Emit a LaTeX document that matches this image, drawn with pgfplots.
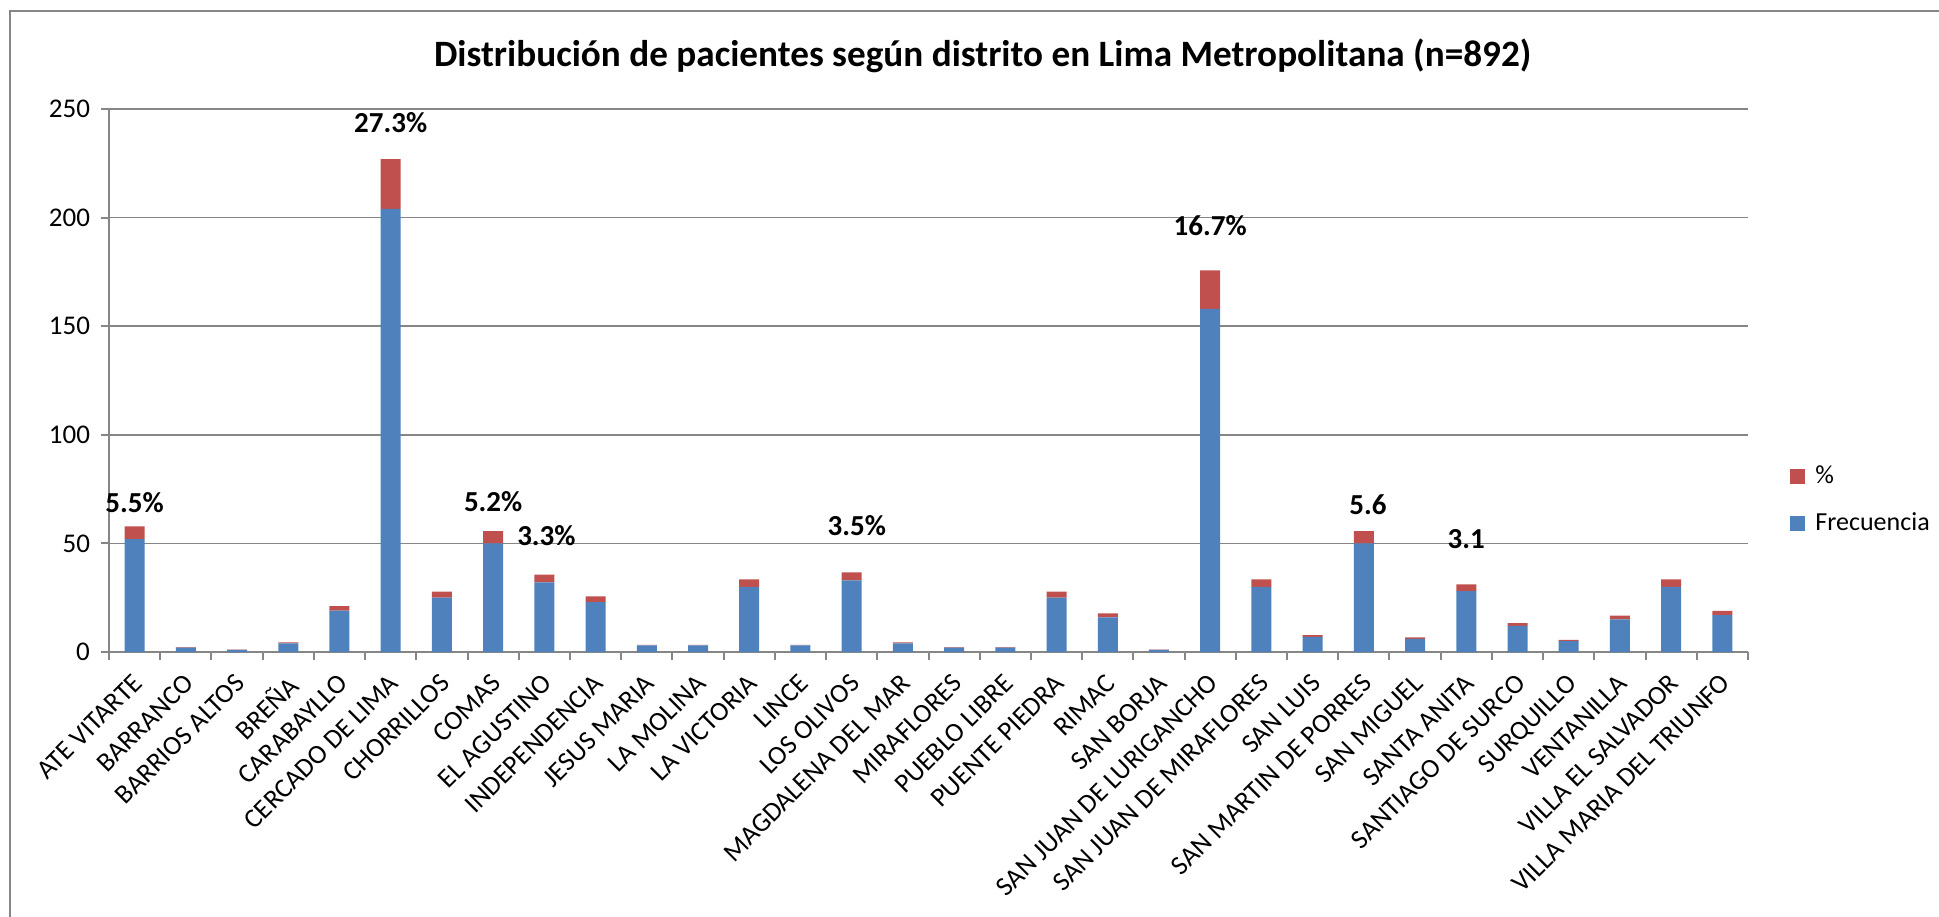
\documentclass[border=0pt]{standalone}
\usepackage{fontspec}
\setmainfont{Carlito}
\usepackage{pgfplots}
\pgfplotsset{compat=1.18}

\definecolor{xlblue}{HTML}{4F81BD}
\definecolor{xlred}{HTML}{C0504D}
\definecolor{xlgray}{HTML}{868686}

\newcommand{\lblfont}{\fontsize{13.5}{16}\selectfont}
\tikzset{pct/.style={font=\bfseries\fontsize{14.5}{17}\selectfont}}

\begin{document}
\begin{tikzpicture}
% page = full chart area (1 px of the reference = 0.5pt), plot area at (0,0)
\useasboundingbox (-54.5pt,-132pt) rectangle (915pt,326pt);
\draw[xlgray, line width=0.8pt] (-49.5pt,-140pt) -- (-49.5pt,320.5pt) -- (930pt,320.5pt);

\begin{axis}[
  at={(0,0)}, anchor=south west,
  scale only axis, width=819.5pt, height=271.5pt,
  ybar stacked, bar width=10pt,
  xmin=-0.5, xmax=31.5, ymin=0, ymax=250,
  ytick={0,50,...,250},
  xtick={0,...,31},
  xticklabels={ATE VITARTE, BARRANCO, BARRIOS ALTOS, BREÑA, CARABAYLLO,
    CERCADO DE LIMA, CHORRILLOS, COMAS, EL AGUSTINO, INDEPENDENCIA,
    JESUS MARIA, LA MOLINA, LA VICTORIA, LINCE, LOS OLIVOS,
    MAGDALENA DEL MAR, MIRAFLORES, PUEBLO LIBRE, PUENTE PIEDRA, RIMAC,
    SAN BORJA, SAN JUAN DE LURIGANCHO, SAN JUAN DE MIRAFLORES, SAN LUIS,
    SAN MARTIN DE PORRES, SAN MIGUEL, SANTA ANITA, SANTIAGO DE SURCO,
    SURQUILLO, VENTANILLA, VILLA EL SALVADOR, VILLA MARIA DEL TRIUNFO},
  minor xtick={-0.5,0.5,...,31.5},
  major x tick style={draw=none},
  axis lines*=left,
  axis line style={-, draw=xlgray, line width=1pt},
  tick style={xlgray, line width=1pt},
  tick align=outside, major tick length=4pt, minor tick length=4pt,
  ymajorgrids, grid style={xlgray, line width=0.8pt},
  /pgf/number format/assume math mode=true,
  tick label style={font=\lblfont},
  yticklabel style={xshift=-2pt},
  xticklabel style={xshift=-1.6pt, yshift=-4.7pt, rotate=45, anchor=north east, inner sep=1pt},
  reverse legend,
  legend cell align=left,
  legend style={draw=none, fill=none, at={(1.022,0.28)}, anchor=west,
    font=\fontsize{13}{15}\selectfont, row sep=9pt},
  legend image code/.code={\fill[#1] (0pt,-3.75pt) rectangle (7.5pt,3.75pt); \path (10.5pt,0pt);},
  clip=false,
]
\addplot[fill=xlblue, draw=none] coordinates {
  (0,52) (1,2) (2,1) (3,4) (4,19) (5,204) (6,25) (7,50) (8,32) (9,23)
  (10,3) (11,3) (12,30) (13,3) (14,33) (15,4) (16,2) (17,2) (18,25) (19,16)
  (20,1) (21,158) (22,30) (23,7) (24,50) (25,6) (26,28) (27,12) (28,5) (29,15)
  (30,30) (31,17)};
\addlegendentry{Frecuencia}
\addplot[fill=xlred, draw=none] coordinates {
  (0,5.8) (1,0.2) (2,0.1) (3,0.4) (4,2.1) (5,22.9) (6,2.8) (7,5.6) (8,3.6) (9,2.6)
  (10,0.3) (11,0.3) (12,3.4) (13,0.3) (14,3.7) (15,0.4) (16,0.2) (17,0.2) (18,2.8) (19,1.8)
  (20,0.1) (21,17.7) (22,3.4) (23,0.8) (24,5.6) (25,0.7) (26,3.1) (27,1.3) (28,0.6) (29,1.7)
  (30,3.4) (31,1.9)};
\addlegendentry{\%}

\node[pct] at (axis cs:0,68.7) {5.5\%};
\node[pct] at (axis cs:5,243.8) {27.3\%};
\node[pct] at (axis cs:7,69.1) {5.2\%};
\node[pct] at (axis cs:8.04,53.4) {3.3\%};
\node[pct] at (axis cs:14.1,58) {3.5\%};
\node[pct] at (axis cs:21,196.4) {16.7\%};
\node[pct] at (axis cs:24.08,67.9) {5.6};
\node[pct] at (axis cs:26,52) {3.1};

\node[font=\bfseries\fontsize{18.6}{22}\selectfont] at (rel axis cs:0.533,1.0976)
  {Distribución de pacientes según distrito en Lima Metropolitana (n=892)};
\end{axis}
\end{tikzpicture}
\end{document}
